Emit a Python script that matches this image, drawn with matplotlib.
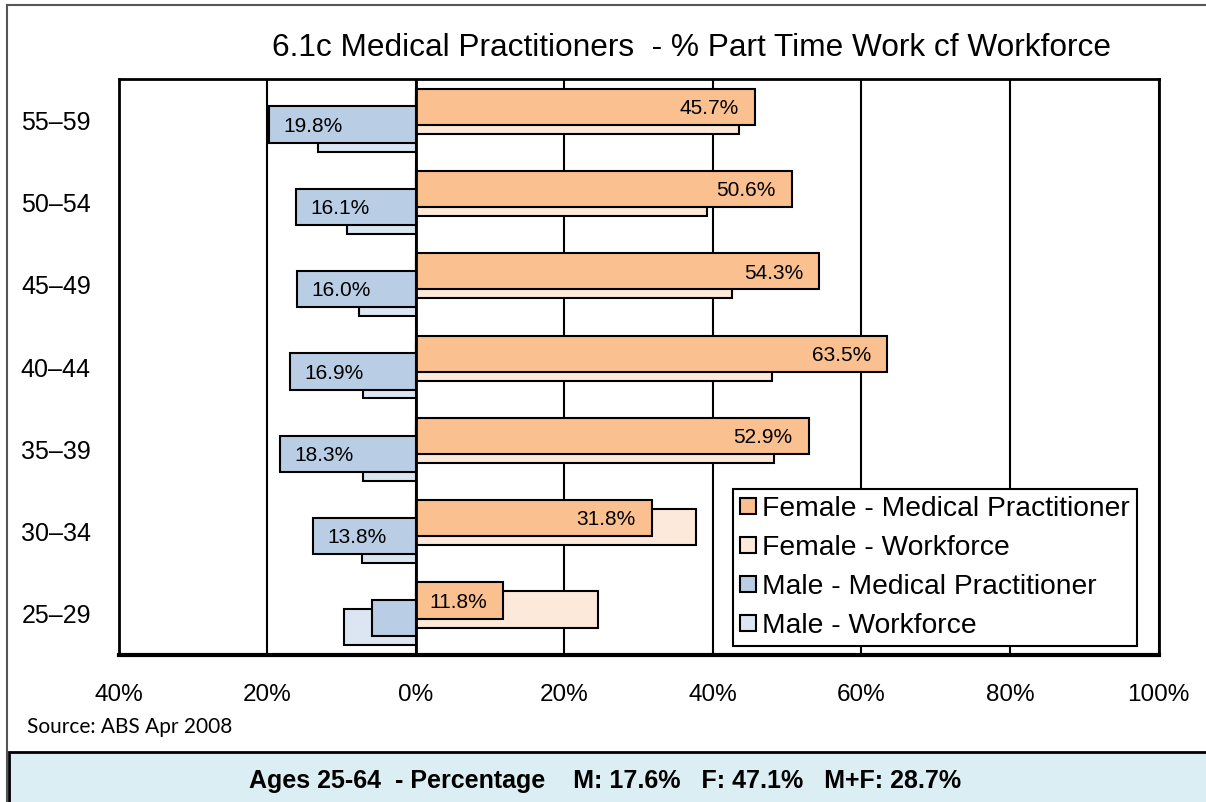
import numpy as np
import matplotlib
matplotlib.use('Agg')
import matplotlib.pyplot as plt
from matplotlib.patches import Rectangle, Patch
from matplotlib.lines import Line2D

# age groups, top to bottom
ages = ['55–59', '50–54', '45–49', '40–44', '35–39', '30–34', '25–29']

# % part time
female_med = [45.7, 50.6, 54.3, 63.5, 52.9, 31.8, 11.8]
female_wf = [43.5, 39.2, 42.6, 48.0, 48.2, 37.8, 24.6]
male_med = [19.8, 16.1, 16.0, 16.9, 18.3, 13.8, 5.9]
male_wf = [13.1, 9.2, 7.6, 7.1, 7.1, 7.2, 9.7]

xticks = [-40, -20, 0, 20, 40, 60, 80, 100]

title = '6.1c Medical Practitioners  - % Part Time Work cf Workforce'
source = 'Source: ABS Apr 2008'
summary = 'Ages 25-64  - Percentage    M: 17.6%   F: 47.1%   M+F: 28.7%'

C_FMED = '#FAC090'
C_FWF = '#FDE9D9'
C_MMED = '#B9CDE5'
C_MWF = '#DCE6F2'

W, H = 1206, 802


def fx(x):
    return x / W


def fy(y):
    return 1 - y / H


def main():
    plt.rcParams['font.family'] = ['Liberation Sans', 'DejaVu Sans']

    fig = plt.figure(figsize=(W / 100, H / 100), dpi=100)
    fig.patch.set_facecolor('white')

    # outer frame and bottom summary panel
    fig.add_artist(Line2D([fx(7), fx(7)], [fy(5), fy(802)], color='#555555', lw=1.5,
                          transform=fig.transFigure))
    fig.add_artist(Line2D([fx(7), fx(1206)], [fy(5), fy(5)], color='#555555', lw=1.5,
                          transform=fig.transFigure))
    fig.add_artist(Rectangle((fx(9), fy(810)), fx(1210) - fx(9), fy(752) - fy(810),
                             facecolor='#DBEEF3', edgecolor='black', lw=2,
                             transform=fig.transFigure))
    fig.text(fx(605), fy(781), summary, ha='center', va='center', fontsize=18,
             fontweight='bold')
    fig.text(fx(27), fy(727), source, ha='left', va='center', fontsize=15,
             family=['Lato', 'DejaVu Sans'])
    fig.text(fx(691), fy(48), title, ha='center', va='center', fontsize=22.8)

    ax = fig.add_axes([fx(118.6), fy(655), fx(1158.5) - fx(118.6), fy(79) - fy(655)])

    y = np.arange(len(ages))
    h = 0.44
    s = 0.108

    # workforce first, practitioners over them
    ax.barh(y - 0.5 * s, female_wf, height=h, color=C_FWF, edgecolor='black', lw=1.5, zorder=2)
    ax.barh(y + 1.5 * s, [-v for v in male_wf], height=h, color=C_MWF, edgecolor='black', lw=1.5, zorder=2)
    ax.barh(y - 1.5 * s, female_med, height=h, color=C_FMED, edgecolor='black', lw=1.5, zorder=3)
    ax.barh(y + 0.5 * s, [-v for v in male_med], height=h, color=C_MMED, edgecolor='black', lw=1.5, zorder=3)

    for i, v in enumerate(female_med):
        ax.annotate(f'{v:.1f}%', (v, y[i] - 1.5 * s + 0.02), xytext=(-11.5, 0),
                    textcoords='offset points', ha='right', va='center', fontsize=15, zorder=5)
    for i, v in enumerate(male_med):
        if v > 10:
            ax.annotate(f'{v:.1f}%', (-v, y[i] + 0.5 * s + 0.02), xytext=(10.5, 0),
                        textcoords='offset points', ha='left', va='center', fontsize=15, zorder=5)

    ax.axvline(0, color='black', lw=2, zorder=4)

    ax.set_xlim(-40, 100)
    ax.set_ylim(len(ages) - 0.5, -0.5)
    ax.set_xticks(xticks)
    ax.set_xticklabels([f'{abs(v)}%' for v in xticks], fontsize=17.5)
    ax.set_yticks(y)
    ax.set_yticklabels(ages, fontsize=18)
    ax.tick_params(length=0, pad=21)
    ax.tick_params(axis='y', pad=20)

    ax.grid(axis='x', color='black', lw=1.5)
    ax.set_axisbelow(True)
    for side in ['left', 'right', 'top']:
        ax.spines[side].set_linewidth(2)
    ax.spines['bottom'].set_linewidth(3)

    handles = [Patch(facecolor=C_FMED, edgecolor='black', lw=1.5),
               Patch(facecolor=C_FWF, edgecolor='black', lw=1.5),
               Patch(facecolor=C_MMED, edgecolor='black', lw=1.5),
               Patch(facecolor=C_MWF, edgecolor='black', lw=1.5)]
    labels = ['Female - Medical Practitioner', 'Female - Workforce',
              'Male - Medical Practitioner', 'Male - Workforce']
    leg = ax.legend(handles, labels, loc='lower right', bbox_to_anchor=(0.9795, 0.016),
                    fontsize=20.3, fancybox=False, framealpha=1, edgecolor='black',
                    handlelength=0.55, handleheight=0.5, handletextpad=0.23,
                    labelspacing=0.46, borderpad=0.25, borderaxespad=0)
    leg.get_frame().set_linewidth(1.5)
    leg.set_zorder(6)

    plt.savefig('out.png', dpi=100)
    plt.close()


if __name__ == '__main__':
    main()
